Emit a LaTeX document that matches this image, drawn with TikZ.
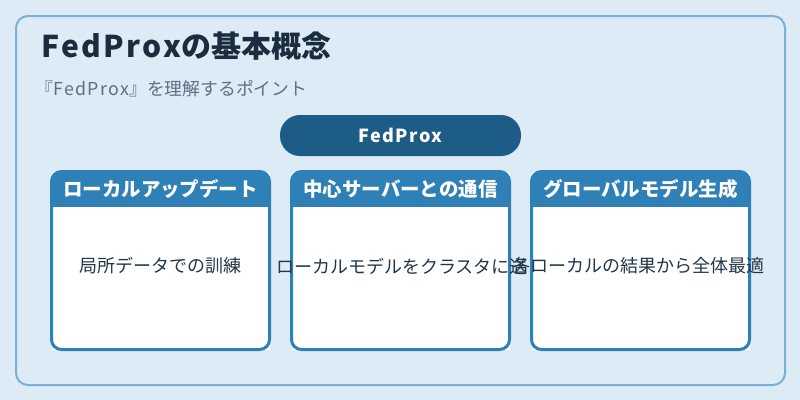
\documentclass[tikz,border=0pt]{standalone}
\usepackage{fontspec}
\setmainfont{Noto Sans CJK JP}
\usepackage{tikz}
\usetikzlibrary{calc}
\definecolor{bgc}{HTML}{DDEBF6}
\definecolor{framec}{HTML}{7AB1D5}
\definecolor{pillc}{HTML}{1E5C88}
\definecolor{cardc}{HTML}{2E80B6}
\definecolor{titlec}{HTML}{1A2D3E}
\definecolor{subc}{HTML}{5C7084}
\definecolor{bodyc}{HTML}{22364A}
\newcommand{\fsz}[1]{\fontsize{#1pt}{#1pt}\selectfont}
\newcommand{\latin}[1]{{\addfontfeature{LetterSpace=8}#1}}
\newcommand{\fedcard}[3]{%
  \node[cardbox] (#1) at (#2,260.5) {};
  \begin{scope}
    \clip[rounded corners=7.5pt] (#1.north west) rectangle (#1.south east);
    \fill[cardc] (#1.north west) rectangle ($(#1.north east)+(0,35)$);
  \end{scope}
  \draw[cardc, line width=2.25pt, rounded corners=7.5pt]
    (#1.north west) rectangle (#1.south east);
  \node[headtext] (#1head) at (#2,189) {#3};}

\begin{document}
\begin{tikzpicture}[x=0.75pt, y=-0.75pt,
  cardbox/.style={fill=white, minimum width=163.5pt, minimum height=133.5pt,
    inner sep=0pt, outer sep=0pt},
  headtext/.style={text=white, font=\fsz{14.6}\bfseries, inner sep=0pt},
  bodytext/.style={text=bodyc, font=\fsz{13.5}, inner sep=0pt}]
  \useasboundingbox (0,0) rectangle (800,400);
  \fill[bgc] (0,0) rectangle (800,400);
  \draw[framec, line width=1.5pt, rounded corners=9pt] (16,16) rectangle (785,385);
  \node[anchor=base west, inner sep=0pt, text=titlec, font=\fsz{22.5}\bfseries]
    (title) at (41,57) {\latin{FedProx}の基本概念};
  \node[anchor=base west, inner sep=0pt, text=subc, font=\fsz{13.35}]
    (subtitle) at (35,95) {『\latin{FedProx}』を理解するポイント};
  \node[fill=pillc, rounded corners=15pt, minimum width=180.75pt,
        minimum height=30.75pt, inner sep=0pt, text=white, font=\fsz{13.5}\bfseries]
    (fedprox) at (400.5,135.5) {\latin{FedProx}};
  \fedcard{local}{160.5}{ローカルアップデート}
  \fedcard{server}{400.5}{中心サーバーとの通信}
  \fedcard{global}{640.5}{グローバルモデル生成}
  \node[bodytext] (localbody) at (160.5,266) {局所データでの訓練};
  \node[bodytext] (serverbody) at (402,266) {ローカルモデルをクラスタに送};
  \node[bodytext] (globalbody) at (638,266) {各ローカルの結果から全体最適};
\end{tikzpicture}
\end{document}
